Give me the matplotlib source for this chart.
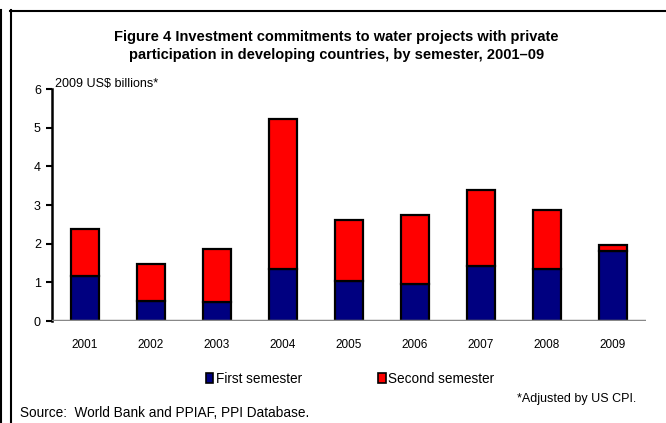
import numpy as np
import matplotlib.pyplot as plt
from matplotlib.lines import Line2D
from matplotlib.patches import Patch

plt.rcParams['font.family'] = ['Liberation Sans', 'DejaVu Sans']

# -----------------------------
# DATA (2009 US$ billions)
# -----------------------------
years = ["2001", "2002", "2003", "2004", "2005", "2006", "2007", "2008", "2009"]
first_sem = [1.16, 0.52, 0.48, 1.35, 1.03, 0.96, 1.41, 1.35, 1.80]
second_sem = [1.22, 0.96, 1.38, 3.87, 1.57, 1.77, 1.98, 1.52, 0.17]
y_ticks = [0, 1, 2, 3, 4, 5, 6]

NAVY = "#000080"
RED = "#ff0000"

W, H = 666, 423
fig = plt.figure(figsize=(6.66, 4.23), dpi=100)
ax = fig.add_axes([52 / W, 1 - 321 / H, 594 / W, (321 - 89) / H])

x = np.arange(len(years))
ax.bar(x, first_sem, width=0.42, color=NAVY, edgecolor="black", linewidth=1.6, zorder=3)
ax.bar(x, second_sem, bottom=first_sem, width=0.42, color=RED, edgecolor="black",
       linewidth=1.6, zorder=3)

ax.axhline(0, color="#888888", linewidth=2.5, zorder=4)

ax.set_xlim(-0.5, len(years) - 0.5)
ax.set_ylim(0, 6)
ax.set_yticks(y_ticks)
ax.set_xticks(x)
ax.set_xticklabels(years)
ax.tick_params(axis="x", length=0, pad=13, labelsize=8.5)
ax.tick_params(axis="y", length=4, width=1.5, direction="out", labelsize=9, pad=4)

for s in ["top", "right", "bottom"]:
    ax.spines[s].set_visible(False)
ax.spines["left"].set_linewidth(1.8)

ax.text(0.005, 1.02, "2009 US$ billions*", transform=ax.transAxes, fontsize=9,
        ha="left", va="center")

# title
fig.text(0.505, 1 - 46 / H,
         "Figure 4 Investment commitments to water projects with private\n"
         "participation in developing countries, by semester, 2001\u201309",
         ha="center", va="center", fontsize=10.5, fontweight="bold", linespacing=1.45)

# legend
handles = [Patch(facecolor=NAVY, edgecolor="black", linewidth=1.2),
           Patch(facecolor=RED, edgecolor="black", linewidth=1.2)]
fig.legend(handles, ["First semester", "Second semester"], ncol=2, frameon=False,
           loc="center", bbox_to_anchor=(350 / W, 1 - 379 / H), fontsize=9.8,
           handlelength=0.55, handleheight=0.75, handletextpad=0.2, columnspacing=5.6)

fig.text(20 / W, 1 - 413 / H, "Source:  World Bank and PPIAF, PPI Database.",
         fontsize=9.8, ha="left", va="center")
fig.text(636 / W, 1 - 399 / H, "*Adjusted by US CPI.",
         fontsize=9, ha="right", va="center")

# frame lines
fig.add_artist(Line2D([1 / W, 1 / W], [0, 1 - 10 / H], color="black", linewidth=1.5))
fig.add_artist(Line2D([11 / W, 11 / W], [0, 1 - 10.5 / H], color="black", linewidth=1.5))
fig.add_artist(Line2D([10.5 / W, 1], [1 - 11 / H, 1 - 11 / H], color="black", linewidth=1.5))

fig.savefig("out.png", dpi=100)
